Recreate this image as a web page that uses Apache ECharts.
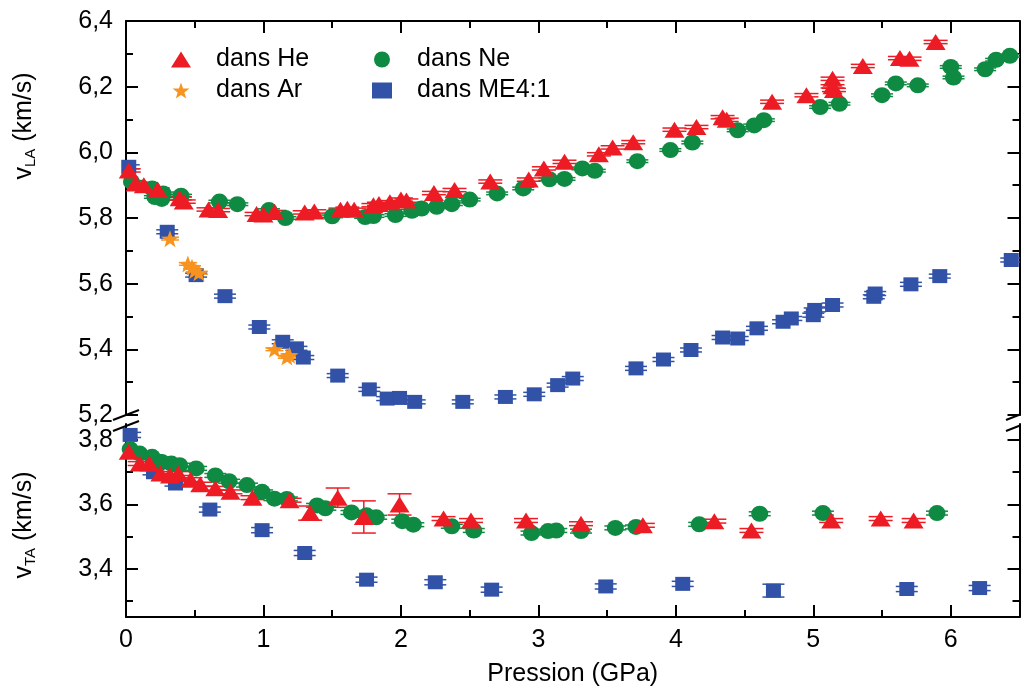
<!DOCTYPE html>
<html><head><meta charset="utf-8">
<script src="https://cdn.jsdelivr.net/npm/echarts@6/dist/echarts.min.js"></script>
<style>html,body{margin:0;padding:0;background:#fff}#c{width:1021px;height:689px}</style>
</head><body><div id="c"></div>
<script>
// ---- tick labels ----
const xTicks = [0, 1, 2, 3, 4, 5, 6];
const xMinor = [0.5, 1.5, 2.5, 3.5, 4.5, 5.5];
const yLATicks = [5.2, 5.4, 5.6, 5.8, 6.0, 6.2, 6.4];
const yLAMinor = [5.3, 5.5, 5.7, 5.9, 6.1, 6.3];
const yTATicks = [3.4, 3.6, 3.8];
const yTAMinor = [3.3, 3.5, 3.7];

// ---- data: [pressure GPa, velocity km/s] ----
const heLA = [[0.02,5.945],[0.07,5.905],[0.13,5.90],[0.23,5.887],[0.39,5.86],[0.42,5.85],[0.60,5.826],[0.67,5.824],[0.95,5.812],[1.00,5.811],[1.08,5.818],[1.30,5.817],[1.37,5.82],[1.56,5.825],[1.61,5.828],[1.66,5.825],[1.80,5.839],[1.84,5.843],[1.92,5.848],[2.00,5.856],[2.04,5.853],[2.24,5.876],[2.39,5.885],[2.65,5.911],[2.93,5.917],[3.04,5.951],[3.19,5.971],[3.44,5.994],[3.54,6.015],[3.69,6.031],[3.99,6.069],[4.15,6.077],[4.34,6.107],[4.37,6.099],[4.70,6.154],[4.95,6.174],[5.14,6.224],[5.14,6.201],[5.15,6.19],[5.36,6.263],[5.63,6.287],[5.70,6.285],[5.89,6.336]];
const neLA = [[0.04,5.91],[0.19,5.89],[0.21,5.864],[0.27,5.875],[0.26,5.858],[0.40,5.868],[0.68,5.85],[0.81,5.842],[1.04,5.824],[1.16,5.80],[1.50,5.805],[1.74,5.803],[1.80,5.806],[1.96,5.809],[2.08,5.822],[2.15,5.829],[2.26,5.834],[2.37,5.842],[2.50,5.856],[2.70,5.875],[2.89,5.89],[3.08,5.918],[3.19,5.919],[3.32,5.951],[3.41,5.944],[3.72,5.973],[3.96,6.007],[4.12,6.03],[4.45,6.067],[4.57,6.082],[4.64,6.098],[5.05,6.138],[5.19,6.148],[5.50,6.174],[5.60,6.21],[5.76,6.204],[6.00,6.26],[6.02,6.228],[6.25,6.253],[6.33,6.282],[6.43,6.294]];
const arLA = [[0.32,5.737],[0.45,5.66],[0.48,5.65],[0.50,5.64],[0.53,5.633],[1.08,5.40],[1.17,5.377],[1.19,5.382]];
const meLA = [[0.02,5.956],[0.30,5.758],[0.51,5.626],[0.72,5.562],[0.97,5.468],[1.14,5.423],[1.24,5.403],[1.29,5.375],[1.54,5.32],[1.77,5.278],[1.90,5.25],[1.99,5.252],[2.10,5.24],[2.45,5.24],[2.76,5.255],[2.97,5.263],[3.14,5.291],[3.25,5.311],[3.71,5.342],[3.91,5.369],[4.11,5.398],[4.34,5.436],[4.45,5.433],[4.59,5.464],[4.78,5.484],[4.84,5.494],[5.00,5.504],[5.01,5.52],[5.14,5.535],[5.44,5.56],[5.45,5.57],[5.71,5.598],[5.92,5.623],[6.44,5.672]];

const heTA = [[0.02,3.764],[0.10,3.727],[0.17,3.727],[0.25,3.696],[0.32,3.69],[0.38,3.696],[0.47,3.677],[0.54,3.663],[0.65,3.65],[0.76,3.639],[0.92,3.621],[1.19,3.613],[1.34,3.573],[1.54,3.621],[1.73,3.561],[1.99,3.60],[2.31,3.556],[2.51,3.55],[2.91,3.55],[3.31,3.54],[3.76,3.535],[4.28,3.548],[4.55,3.519],[5.13,3.55],[5.49,3.556],[5.73,3.55]];
const heTAErr = [0.006,0.006,0.006,0.006,0.006,0.006,0.006,0.006,0.006,0.006,0.006,0.006,0.022,0.03,0.05,0.033,0.006,0.006,0.006,0.006,0.006,0.006,0.006,0.006,0.006,0.006];
const neTA = [[0.03,3.772],[0.10,3.758],[0.19,3.748],[0.26,3.732],[0.33,3.727],[0.39,3.722],[0.51,3.712],[0.65,3.69],[0.75,3.672],[0.88,3.66],[0.99,3.639],[1.08,3.618],[1.17,3.617],[1.39,3.597],[1.45,3.588],[1.64,3.575],[1.75,3.566],[1.82,3.56],[2.01,3.548],[2.09,3.537],[2.37,3.532],[2.53,3.519],[2.95,3.511],[3.07,3.517],[3.13,3.519],[3.31,3.517],[3.56,3.527],[3.71,3.53],[4.17,3.538],[4.61,3.571],[5.07,3.573],[5.90,3.573]];
const meTA = [[0.03,3.816],[0.20,3.70],[0.36,3.665],[0.61,3.584],[0.99,3.52],[1.30,3.449],[1.75,3.366],[2.25,3.358],[2.66,3.335],[3.49,3.345],[4.05,3.353],[4.71,3.332],[5.68,3.337],[6.21,3.34]];
const meTAErr = [0.008,0.008,0.008,0.008,0.008,0.008,0.008,0.008,0.008,0.008,0.008,0.02,0.008,0.008];
const heLAErr = 0.005, neLAErr = 0.004, meLAErr = 0.006, arLAErr = 0.004, neTAErr = 0.006;

// ---- styling ----
const RED = '#ED1C24', GREEN = '#0F8A42', BLUE = '#3152A6', ORANGE = '#F7931E';
const FONT = "'Liberation Sans', Arial, sans-serif";
const FS = 25;
const STAR = 'path://M0,-10L2.35,-3.24L9.51,-3.09L3.8,1.24L5.88,8.09L0,4L-5.88,8.09L-3.8,1.24L-9.51,-3.09L-2.35,-3.24Z';
const fmt1 = v => Number(v).toFixed(1).replace('.', ',');

const line2 = { show: true, lineStyle: { color: '#000', width: 2 } };
const noLine = { show: false };

function xAx(grid, pos, ticks, len, labels, showLine, name) {
  return {
    type: 'value', gridIndex: grid, position: pos, min: 0, max: 6.5,
    axisLine: showLine ? line2 : noLine,
    axisTick: { show: true, inside: true, length: len, customValues: ticks, lineStyle: { color: '#000', width: 2 } },
    axisLabel: labels ? { show: true, customValues: ticks, color: '#000', fontFamily: FONT, fontSize: FS, margin: 11, formatter: v => String(v) } : { show: false },
    splitLine: { show: false },
    name: name || '', nameLocation: 'middle', nameGap: 45,
    nameTextStyle: { color: '#000', fontFamily: FONT, fontSize: FS }
  };
}
function yAx(grid, pos, min, max, ticks, len, labels, showLine) {
  return {
    type: 'value', gridIndex: grid, position: pos, min: min, max: max,
    axisLine: showLine ? line2 : noLine,
    axisTick: { show: true, inside: true, length: len, customValues: ticks, lineStyle: { color: '#000', width: 2 } },
    axisLabel: labels ? { show: true, customValues: ticks, color: '#000', fontFamily: FONT, fontSize: FS, margin: 13, formatter: fmt1 } : { show: false },
    splitLine: { show: false }
  };
}

function errData(pts, err) {
  return pts.map((p, i) => [p[0], p[1], Array.isArray(err) ? err[i] : err]);
}
function errSeries(pts, err, color, xi, yi, hw) {
  return {
    type: 'custom', name: 'err', xAxisIndex: xi, yAxisIndex: yi, clip: true, silent: true, z: 1,
    data: errData(pts, err), encode: { x: 0, y: 1 },
    renderItem: function (params, api) {
      const x = api.value(0), y = api.value(1), e = api.value(2);
      const c = api.coord([x, y]);
      const lo = api.coord([x, y - e]), hi = api.coord([x, y + e]);
      const st = { stroke: color, lineWidth: 1.5 };
      return { type: 'group', children: [
        { type: 'line', shape: { x1: c[0], y1: lo[1], x2: c[0], y2: hi[1] }, style: st },
        { type: 'line', shape: { x1: c[0] - hw, y1: lo[1], x2: c[0] + hw, y2: lo[1] }, style: st },
        { type: 'line', shape: { x1: c[0] - hw, y1: hi[1], x2: c[0] + hw, y2: hi[1] }, style: st }
      ]};
    }
  };
}
function sc(name, pts, symbol, size, color, xi, yi) {
  return { type: 'scatter', name: name, data: pts, symbol: symbol, symbolSize: size,
    xAxisIndex: xi, yAxisIndex: yi, itemStyle: { color: color, opacity: 1 }, z: 2, emphasis: { disabled: true } };
}

const chart = echarts.init(document.getElementById('c'), null, { renderer: 'canvas' });
const legendBase = {
  orient: 'vertical', top: 47, itemGap: 6, itemWidth: 20, itemHeight: 16, padding: 0,
  symbolKeepAspect: true,
  textStyle: { color: '#000', fontFamily: FONT, fontSize: FS, padding: [0, 0, 0, 20] },
  selectedMode: false
};
chart.setOption({
  animation: false,
  backgroundColor: '#fff',
  grid: [
    { left: 126, right: 1.5, top: 21, height: 394 },
    { left: 126, right: 1.5, top: 424, height: 193 }
  ],
  xAxis: [
    xAx(0, 'top', xTicks, 12, false, true),
    xAx(0, 'top', xMinor, 7, false, false),
    xAx(1, 'bottom', xTicks, 12, true, true, 'Pression (GPa)'),
    xAx(1, 'bottom', xMinor, 7, false, false)
  ],
  yAxis: [
    yAx(0, 'left', 5.2, 6.4, yLATicks, 12, true, true),
    yAx(0, 'left', 5.2, 6.4, yLAMinor, 7, false, false),
    yAx(0, 'right', 5.2, 6.4, yLATicks, 12, false, true),
    yAx(0, 'right', 5.2, 6.4, yLAMinor, 7, false, false),
    yAx(1, 'left', 3.25, 3.85, yTATicks, 12, true, true),
    yAx(1, 'left', 3.25, 3.85, yTAMinor, 7, false, false),
    yAx(1, 'right', 3.25, 3.85, yTATicks, 12, false, true),
    yAx(1, 'right', 3.25, 3.85, yTAMinor, 7, false, false)
  ],
  legend: [
    Object.assign({}, legendBase, { left: 171, data: ['dans He', 'dans Ar'] }),
    Object.assign({}, legendBase, { left: 372, data: ['dans Ne', 'dans ME4:1'] })
  ],
  series: [
    errSeries(meLA, meLAErr, BLUE, 0, 0, 11),
    errSeries(meTA, meTAErr, BLUE, 2, 4, 11),
    errSeries(neLA, neLAErr, GREEN, 0, 0, 11),
    errSeries(neTA, neTAErr, GREEN, 2, 4, 11),
    errSeries(heLA, heLAErr, RED, 0, 0, 12),
    errSeries(heTA, heTAErr, RED, 2, 4, 12),
    errSeries(arLA, arLAErr, ORANGE, 0, 0, 9),
    sc('dans ME4:1', meLA, 'rect', [15, 14], BLUE, 0, 0),
    sc('dans ME4:1', meTA, 'rect', [15, 14], BLUE, 2, 4),
    sc('dans Ne', neLA, 'circle', [17, 16], GREEN, 0, 0),
    sc('dans Ne', neTA, 'circle', [17, 16], GREEN, 2, 4),
    sc('dans He', heLA, 'triangle', [20, 16], RED, 0, 0),
    sc('dans He', heTA, 'triangle', [20, 16], RED, 2, 4),
    sc('dans Ar', arLA, STAR, [18, 17], ORANGE, 0, 0)
  ],
  graphic: [
    { type: 'text', x: 24, y: 126, rotation: Math.PI / 2, z: 10,
      style: { text: '{m|v}{s|LA}{m| (km/s)}', align: 'center', verticalAlign: 'middle', fill: '#000',
        rich: { m: { fontFamily: FONT, fontSize: FS, lineHeight: 28, verticalAlign: 'middle', fill: '#000' },
                s: { fontFamily: FONT, fontSize: 15, lineHeight: 14, verticalAlign: 'bottom', fill: '#000' } } } },
    { type: 'text', x: 24, y: 525, rotation: Math.PI / 2, z: 10,
      style: { text: '{m|v}{s|TA}{m| (km/s)}', align: 'center', verticalAlign: 'middle', fill: '#000',
        rich: { m: { fontFamily: FONT, fontSize: FS, lineHeight: 28, verticalAlign: 'middle', fill: '#000' },
                s: { fontFamily: FONT, fontSize: 15, lineHeight: 14, verticalAlign: 'bottom', fill: '#000' } } } },
    { type: 'line', z: 10, shape: { x1: 113, y1: 420, x2: 139, y2: 410 }, style: { stroke: '#000', lineWidth: 2 } },
    { type: 'line', z: 10, shape: { x1: 113, y1: 431, x2: 139, y2: 421 }, style: { stroke: '#000', lineWidth: 2 } },
    { type: 'line', z: 10, shape: { x1: 1006, y1: 420, x2: 1024, y2: 413 }, style: { stroke: '#000', lineWidth: 2 } },
    { type: 'line', z: 10, shape: { x1: 1006, y1: 431, x2: 1024, y2: 424 }, style: { stroke: '#000', lineWidth: 2 } }
  ]
});
</script></body></html>
